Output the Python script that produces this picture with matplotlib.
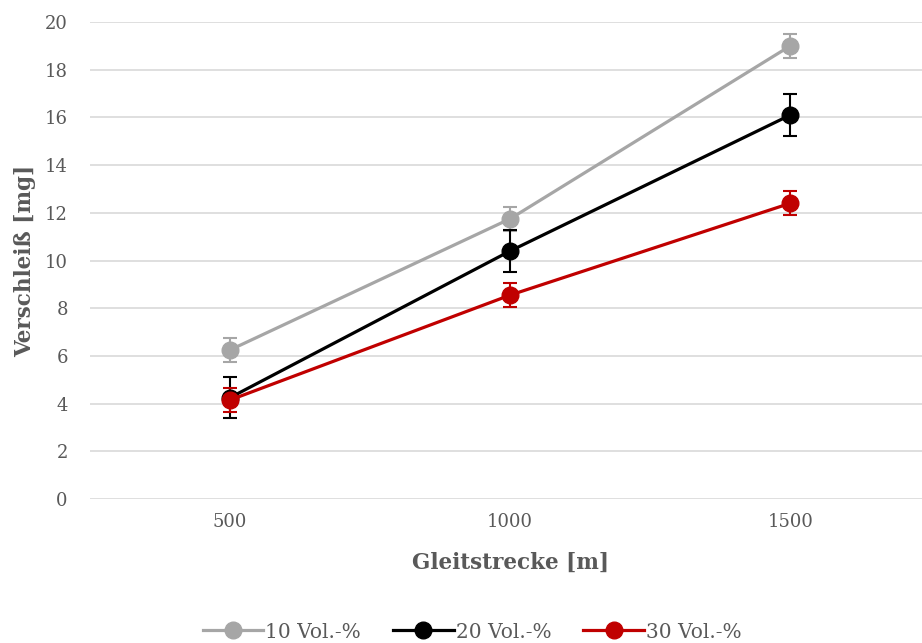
import matplotlib
matplotlib.use("Agg")
import matplotlib.pyplot as plt
import numpy as np

plt.rcParams["font.family"] = ["DejaVu Serif"]

# Daten
strecke = ["500", "1000", "1500"]
labels = ["10 Vol.-%", "20 Vol.-%", "30 Vol.-%"]
werte = [
    [6.25, 11.75, 19.0],
    [4.25, 10.4, 16.1],
    [4.15, 8.55, 12.4],
]
fehler = [
    [0.5, 0.5, 0.5],
    [0.85, 0.88, 0.88],
    [0.5, 0.5, 0.5],
]
farben = ["#A6A6A6", "#000000", "#C00000"]

TXT = "#595959"

fig = plt.figure(figsize=(9.22, 6.43), dpi=100)
ax = fig.add_axes([90 / 922, 1 - 499 / 643, 1 - 90 / 922, (499 - 22) / 643])

x = np.arange(len(strecke))
for y, e, c, lbl in zip(werte, fehler, farben, labels):
    ax.errorbar(x, y, yerr=e, color=c, lw=2.3, marker="o", ms=12,
                ecolor=c, elinewidth=1.5, capsize=5, capthick=1.5,
                label=lbl, zorder=3)

ax.set_xlim(-0.5, 2.47)
ax.set_ylim(0, 20)
ax.set_yticks(range(0, 21, 2))
ax.set_xticks(x, strecke)
ax.grid(True, axis="y", color="#D9D9D9", lw=1.2, zorder=0)
ax.set_axisbelow(True)
for s in ax.spines.values():
    s.set_visible(False)
ax.tick_params(length=0, labelsize=13, colors=TXT, pad=10)
ax.tick_params(axis="y", pad=16)

ax.set_xlabel("Gleitstrecke [m]", fontsize=15.5, fontweight="bold", color=TXT)
ax.xaxis.set_label_coords(0.505, -53 / 477)
ax.set_ylabel("Verschleiß [mg]", fontsize=15.5, fontweight="bold", color=TXT)
ax.yaxis.set_label_coords(-54 / 832, 0.5)

handles, lbls = ax.get_legend_handles_labels()
handles = [h[0] for h in handles]
leg = fig.legend(handles, lbls, loc="center", bbox_to_anchor=(0.512, 1 - 632 / 643),
                 ncol=3, frameon=False, fontsize=14.5, handlelength=3.0,
                 handletextpad=0.1, columnspacing=1.6)
for t in leg.get_texts():
    t.set_color(TXT)

fig.savefig("out.png", dpi=100)
